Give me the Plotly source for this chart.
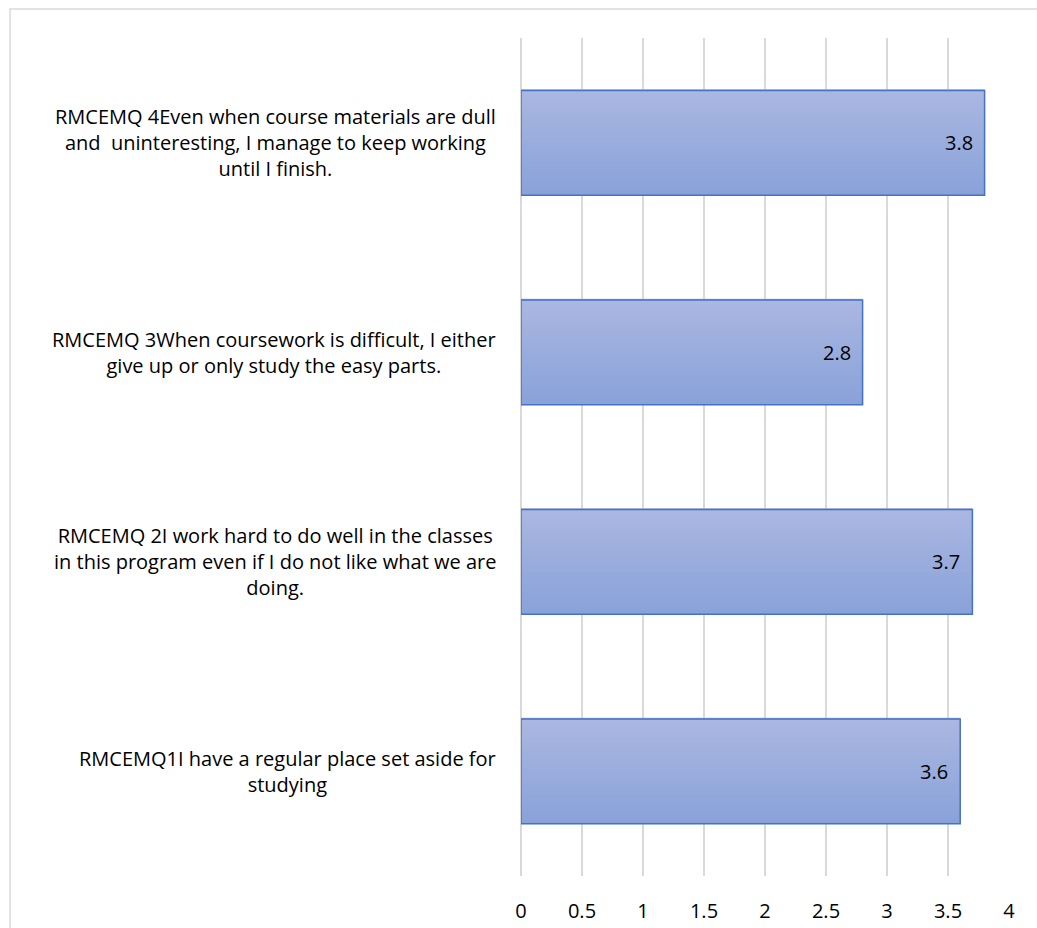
import plotly.graph_objects as go

# Survey items (bottom to top) and their mean scores
categories = [
    "RMCEMQ1I have a regular place set aside for<br>studying",
    "RMCEMQ 2I work hard to do well in the classes<br>in this program even if I do not like what we are<br>doing.",
    "RMCEMQ 3When coursework is difficult, I either<br>give up or only study the easy parts.",
    "RMCEMQ 4Even when course materials are dull<br>and  uninteresting, I manage to keep working<br>until I finish.",
]
scores = [3.6, 3.7, 2.8, 3.8]
x_ticks = [0, 0.5, 1, 1.5, 2, 2.5, 3, 3.5, 4]

FONT = "'Open Sans', sans-serif"
FSIZE = 20
BAR_W = 0.5
TOP_RGB = (170, 183, 225)
BOT_RGB = (137, 162, 217)
N_STRIPS = 52

fig = go.Figure()

# Vertical gradient fill built from thin overlaid strips of each bar
for i in range(N_STRIPS):
    t = i / (N_STRIPS - 1)
    r = round(BOT_RGB[0] + (TOP_RGB[0] - BOT_RGB[0]) * t)
    g = round(BOT_RGB[1] + (TOP_RGB[1] - BOT_RGB[1]) * t)
    b = round(BOT_RGB[2] + (TOP_RGB[2] - BOT_RGB[2]) * t)
    strip = BAR_W / N_STRIPS
    fig.add_trace(go.Bar(
        x=scores, y=categories, orientation="h",
        width=strip * 1.6, offset=-BAR_W / 2 + i * strip,
        marker=dict(color=f"rgb({r},{g},{b})", line=dict(width=0)),
        hoverinfo="skip", showlegend=False,
    ))

# Bar outlines
fig.add_trace(go.Bar(
    x=scores, y=categories, orientation="h",
    width=BAR_W, offset=-BAR_W / 2,
    marker=dict(color="rgba(0,0,0,0)", line=dict(color="#4472c4", width=1.5)),
    showlegend=False,
))

annotations = []
# Category labels, centred line by line to the left of the plot
for cat in categories:
    annotations.append(dict(
        x=-0.048, xref="paper", y=cat, yref="y",
        text=cat, showarrow=False, xanchor="right", align="center",
        font=dict(family=FONT, size=FSIZE, color="#000000"),
    ))
# Value labels inside the bar ends
for cat, v in zip(categories, scores):
    annotations.append(dict(
        x=v, y=cat, xref="x", yref="y", text=f"{v:g}", showarrow=False,
        xanchor="right", xshift=-10,
        font=dict(family=FONT, size=FSIZE, color="#000000"),
    ))

fig.update_layout(
    width=1037, height=928,
    margin=dict(l=521, r=28, t=38, b=52, autoexpand=False),
    barmode="overlay",
    plot_bgcolor="white", paper_bgcolor="white",
    font=dict(family=FONT, size=FSIZE, color="#000000"),
    annotations=annotations,
    shapes=[dict(
        type="rect", xref="paper", yref="paper",
        x0=-1.047, x1=1.07, y0=-0.12, y1=1.0346,
        line=dict(color="#d9d9d9", width=1.5), fillcolor="rgba(0,0,0,0)",
        layer="below",
    )],
    xaxis=dict(
        range=[0, 4.0], tickvals=x_ticks, ticktext=[f"{t:g}" for t in x_ticks],
        showgrid=True, gridcolor="#d9d9d9", gridwidth=1.5,
        zeroline=True, zerolinecolor="#d9d9d9", zerolinewidth=1.5,
        showline=False, ticks="", automargin=False,
        ticklabelstandoff=21, tickfont=dict(family=FONT, size=FSIZE, color="#000000"),
    ),
    yaxis=dict(
        categoryorder="array", categoryarray=categories,
        range=[-0.5, 3.5], showticklabels=False, showgrid=False,
        zeroline=False, showline=False, ticks="", automargin=False,
    ),
)

fig.write_html("out.html")
